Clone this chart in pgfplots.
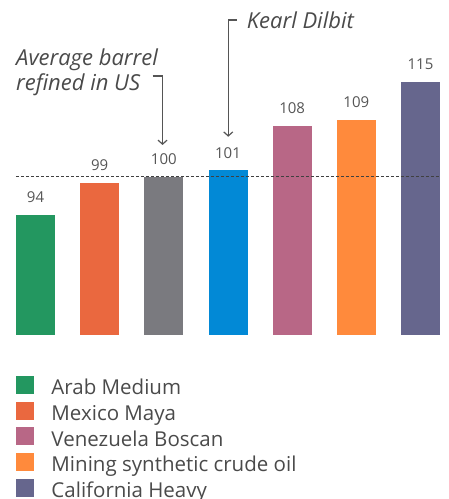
\documentclass[border=0pt]{standalone}
\usepackage{fontspec}
\setmainfont{Open Sans}
\usepackage{pgfplots}
\pgfplotsset{compat=1.18}
\usetikzlibrary{arrows.meta}

\definecolor{cArab}{HTML}{239760}
\definecolor{cMaya}{HTML}{EA683F}
\definecolor{cAvg}{HTML}{7A7A7F}
\definecolor{cKearl}{HTML}{0289D6}
\definecolor{cBoscan}{HTML}{B86786}
\definecolor{cSCO}{HTML}{FF8A3C}
\definecolor{cCal}{HTML}{66668D}
\definecolor{txt}{HTML}{4A4A4A}
\definecolor{ann}{HTML}{555555}

\begin{document}
\begin{tikzpicture}
\useasboundingbox (0pt,-164.3pt) rectangle (449pt,334.7pt);
\begin{axis}[
  at={(0pt,0pt)}, anchor=south west,
  scale only axis,
  width=449pt, height=334.7pt,
  xmin=-0.5532, xmax=6.444,
  ymin=75, ymax=127.92,
  axis lines=none,
  ybar, bar width=39pt, bar shift=0pt,
  /pgf/number format/assume math mode=true,
  nodes near coords,
  nodes near coords style={font=\fontsize{15pt}{18pt}\selectfont, text=ann, anchor=base, yshift=12pt, inner sep=0pt},
  legend image code/.code={\fill[#1] (0pt,-7pt) rectangle (18pt,11pt); \path (35.5pt,0pt);},
  legend style={draw=none, fill=none, inner sep=0pt, outer sep=0pt,
    at={(rel axis cs:0.0356,-0.1234)}, anchor=north west,
    row sep=7pt,
    font=\fontsize{20.5pt}{22pt}\selectfont, text=txt,
    nodes={inner sep=0pt, text depth=0pt}},
  legend cell align=left,
]
\addplot[fill=cArab, draw=none, forget plot] coordinates {(0,94)};
\addplot[fill=cMaya, draw=none, forget plot] coordinates {(1,99)};
\addplot[fill=cAvg, draw=none, forget plot] coordinates {(2,100)};
\addplot[fill=cKearl, draw=none, forget plot] coordinates {(3,101)};
\addplot[fill=cBoscan, draw=none, forget plot] coordinates {(4,108)};
\addplot[fill=cSCO, draw=none, forget plot] coordinates {(5,109)};
\addplot[fill=cCal, draw=none, forget plot] coordinates {(6,115)};

% reference level: the average barrel refined in the US
\draw[color=black!75, line width=1pt, dash pattern=on 3pt off 2pt]
  (axis cs:-0.304,100) -- (axis cs:6.319,100);

% callouts
\draw[ann, line width=1.2pt, -{Straight Barb[length=4pt,width=9pt]}]
  (axis cs:1.826,115.9) -- (axis cs:1.98,115.9) -- (axis cs:1.98,105);
\draw[ann, line width=1.2pt, -{Straight Barb[length=4pt,width=9pt]}]
  (axis cs:3.135,124.75) -- (axis cs:3.004,124.75) -- (axis cs:3.004,106.3);
\node[anchor=base west, inner sep=0pt, text=txt, font=\itshape\fontsize{22pt}{24pt}\selectfont]
  at (axis cs:-0.304,117.53) {Average barrel};
\node[anchor=base west, inner sep=0pt, text=txt, font=\itshape\fontsize{22pt}{24pt}\selectfont]
  at (axis cs:-0.304,113.66) {refined in US};
\node[anchor=base west, inner sep=0pt, text=txt, font=\itshape\fontsize{22pt}{24pt}\selectfont]
  at (axis cs:3.291,123.44) {Kearl Dilbit};

\addlegendimage{fill=cArab, draw=none}
\addlegendentry{Arab Medium}
\addlegendimage{fill=cMaya, draw=none}
\addlegendentry{Mexico Maya}
\addlegendimage{fill=cBoscan, draw=none}
\addlegendentry{Venezuela Boscan}
\addlegendimage{fill=cSCO, draw=none}
\addlegendentry{Mining synthetic crude oil}
\addlegendimage{fill=cCal, draw=none}
\addlegendentry{California Heavy}
\end{axis}
\end{tikzpicture}
\end{document}
